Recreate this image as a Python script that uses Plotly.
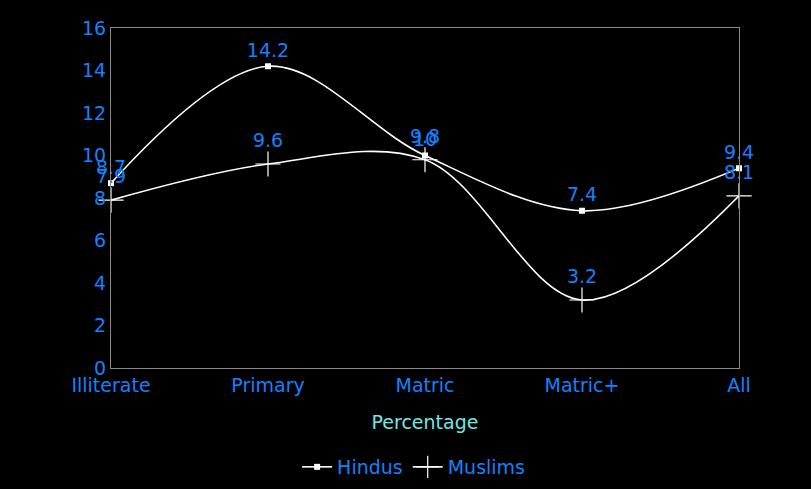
import plotly.graph_objects as go

categories = ["Illiterate", "Primary", "Matric", "Matric+", "All"]
hindus = [8.7, 14.2, 10, 7.4, 9.4]
muslims = [7.9, 9.6, 9.8, 3.2, 8.1]
y_ticks = [0, 2, 4, 6, 8, 10, 12, 14, 16]

BLUE = "#1282ff"
FONT = "DejaVu Sans, Liberation Sans, Arial, sans-serif"
FS = 19
xpos = list(range(len(categories)))

def fmt(v):
    return f"{v:g}"

fig = go.Figure()
fig.add_trace(go.Scatter(
    x=xpos, y=hindus, name="Hindus", mode="lines+markers+text",
    line=dict(color="white", width=1.6, shape="spline", smoothing=1.0),
    marker=dict(symbol="square", size=6, color="white"),
    text=[fmt(v) for v in hindus], textposition="top center",
    textfont=dict(color=BLUE, size=FS, family=FONT), cliponaxis=False,
))
fig.add_trace(go.Scatter(
    x=xpos, y=muslims, name="Muslims", mode="lines+markers+text",
    line=dict(color="white", width=1.6, shape="spline", smoothing=1.0),
    marker=dict(symbol="cross-thin", size=18, color="white",
                line=dict(color="white", width=1.2)),
    text=[fmt(v) for v in muslims], textposition="top center",
    textfont=dict(color=BLUE, size=FS, family=FONT), cliponaxis=False,
))

fig.update_layout(
    width=811, height=489,
    paper_bgcolor="black", plot_bgcolor="black",
    margin=dict(l=111, r=72, t=28, b=121, autoexpand=False),
    font=dict(family=FONT, color=BLUE, size=FS),
    showlegend=True,
    legend=dict(orientation="h", x=0.51, xanchor="center", xref="container",
                y=1 - 467 / 489, yanchor="middle", yref="container",
                font=dict(color=BLUE, size=FS), bgcolor="rgba(0,0,0,0)",
                itemwidth=30),
    xaxis=dict(
        range=[0, 4], tickvals=xpos, ticktext=categories,
        showgrid=False, zeroline=False, showline=True, mirror=True,
        linecolor="#8a8a8a", linewidth=1,
        tickfont=dict(color=BLUE, size=FS),
        title=dict(text="Percentage", font=dict(color="#72e6e6", size=FS), standoff=20),
    ),
    yaxis=dict(
        range=[0, 16], tickvals=y_ticks,
        showgrid=False, zeroline=False, showline=True, mirror=True,
        linecolor="#8a8a8a", linewidth=1,
        tickfont=dict(color=BLUE, size=FS),
    ),
)
fig.write_html("out.html")
